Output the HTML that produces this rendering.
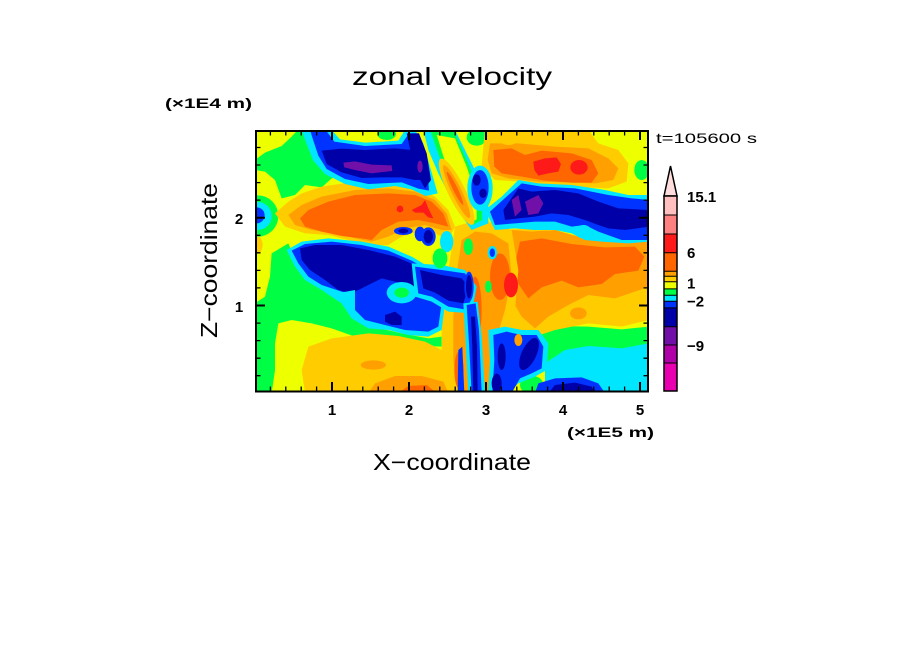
<!DOCTYPE html>
<html><head><meta charset="utf-8"><style>
html,body{margin:0;padding:0;background:#fff;}
svg{display:block;}
.t{font-family:"Liberation Sans",sans-serif;fill:#000;}
.y{fill:#eeff00}.g{fill:#00ff44}.c{fill:#00e6ff}.b{fill:#0033ff}.n{fill:#0000a8}.p{fill:#7010a8}
.gd{fill:#ffcc00}.o1{fill:#ffa000}.o2{fill:#ff6600}.r{fill:#ff1a1a}
</style></head><body>
<svg width="904" height="654" viewBox="0 0 904 654" xmlns="http://www.w3.org/2000/svg">
<rect width="904" height="654" fill="#fff"/>
<svg x="256" y="131" width="392" height="261" viewBox="3 3 1176 783" preserveAspectRatio="none">
<rect x="0" y="0" width="1182" height="789" class="y"/>
<!-- greens -->
<polygon class="g" points="0,90 30,68 80,48 110,20 128,0 205,0 240,40 252,90 236,140 200,172 150,165 120,195 80,205 60,150 30,125 0,120"/>
<circle class="g" cx="8" cy="258" r="62"/>
<polygon class="g" points="50,370 100,340 125,400 160,445 220,480 270,530 300,570 350,590 440,610 520,625 560,620 560,650 460,645 380,635 300,620 230,595 170,580 110,570 70,580 60,640 60,720 50,789 0,789 0,520 30,500 45,440"/>
<polygon class="g" points="840,600 900,588 1000,590 1100,598 1182,590 1182,665 1100,668 1000,660 920,668 870,700 840,680"/>
<ellipse class="g" cx="1160" cy="120" rx="22" ry="30"/>
<ellipse class="g" cx="975" cy="22" rx="35" ry="30"/>
<ellipse class="g" cx="665" cy="22" rx="30" ry="25"/>
<ellipse class="g" cx="830" cy="765" rx="35" ry="28"/>
<!-- positive: middle-left band -->
<polygon class="gd" points="60,250 100,215 140,190 200,170 300,155 400,155 480,170 540,200 580,240 600,290 580,330 540,310 500,300 440,320 400,345 340,345 280,330 220,315 150,310 90,290"/>
<polygon class="o1" points="100,255 140,225 200,200 300,180 400,175 480,185 540,210 575,250 590,300 560,300 510,285 450,295 400,320 350,335 300,325 240,310 170,300 120,285"/>
<polygon class="o2" points="135,265 160,240 220,215 300,195 400,190 480,195 530,215 565,250 580,290 540,280 490,270 430,275 380,300 350,330 320,325 260,318 200,305 150,290"/>
<ellipse class="r" cx="435" cy="237" rx="10" ry="10"/>
<polygon class="r" points="470,240 500,225 510,210 520,235 535,265 520,262 505,248 480,248"/>
<ellipse class="gd" cx="8" cy="345" rx="15" ry="25"/>
<!-- positive: top right -->
<polygon class="gd" points="690,0 1000,0 1030,40 1090,60 1120,100 1115,155 1060,175 990,172 900,168 800,155 720,150 680,110 685,50"/>
<polygon class="o1" points="705,40 790,40 900,50 1000,55 1060,85 1090,115 1075,150 1020,160 950,158 850,155 760,145 710,130 698,90"/>
<polygon class="o2" points="715,60 770,55 810,75 860,62 950,70 1010,90 1030,130 1010,158 950,158 870,152 800,140 740,130 718,110"/>
<polygon class="r" points="835,95 870,85 905,82 918,102 910,125 880,130 850,137 838,120"/>
<ellipse class="r" cx="972" cy="112" rx="26" ry="22"/>
<!-- positive: right lower -->
<polygon class="gd" points="720,300 850,295 950,315 1060,335 1182,320 1182,570 1100,590 1000,580 900,600 840,620 790,640 760,600 740,500 720,400"/>
<polygon class="o1" points="770,300 830,305 900,300 1000,328 1100,330 1182,322 1182,470 1140,485 1080,505 1000,495 940,525 880,560 840,595 800,560 765,500 745,420 755,340"/>
<polygon class="o2" points="795,335 860,325 950,342 1050,352 1140,350 1168,380 1150,422 1080,432 1040,462 970,472 920,452 860,472 820,505 790,462 780,400"/>
<ellipse class="o1" cx="970" cy="550" rx="25" ry="18"/>
<!-- positive: center -->
<polygon class="gd" points="600,290 650,275 700,275 770,300 790,420 780,540 740,640 720,789 580,789 560,700 560,560 580,420"/>
<polygon class="o1" points="620,330 660,305 710,310 760,340 770,440 750,540 720,640 700,789 610,789 595,690 595,560 605,430"/>
<ellipse class="o2" cx="660" cy="540" rx="20" ry="100"/>
<ellipse class="o2" cx="735" cy="440" rx="30" ry="70"/>
<ellipse class="o2" cx="612" cy="720" rx="14" ry="55"/>
<ellipse class="r" cx="768" cy="465" rx="21" ry="37"/>
<!-- positive: bottom-left -->
<polygon class="gd" points="160,650 230,625 340,610 430,618 510,635 560,660 580,789 150,789 140,720"/>
<polygon class="o1" points="340,789 360,760 420,738 500,738 565,755 580,789"/>
<ellipse class="o1" cx="355" cy="705" rx="38" ry="14"/>
<polygon class="o2" points="430,789 460,768 515,765 545,789"/>
<!-- negative: top-left -->
<polygon class="c" points="140,0 230,0 255,28 330,38 430,32 450,0 480,0 505,40 525,110 548,190 512,198 470,178 420,168 340,178 270,162 210,132 175,92 155,42"/>
<polygon class="b" points="165,0 212,0 238,35 330,48 440,42 462,10 490,10 505,70 518,130 522,182 490,176 440,157 340,162 270,147 215,117 190,77 175,32"/>
<polygon class="n" points="200,62 260,56 330,60 420,55 470,60 495,95 505,150 480,150 440,142 380,142 320,144 260,127 215,102"/>
<polygon class="n" points="455,10 492,10 515,70 528,150 510,175 490,140 470,80"/>
<polygon class="p" points="265,98 300,94 350,104 410,106 412,123 350,130 300,120 268,112"/>
<ellipse class="p" cx="495" cy="110" rx="8" ry="18"/>
<ellipse class="g" cx="395" cy="12" rx="28" ry="18"/>
<!-- left circle -->
<circle class="c" cx="8" cy="258" r="42"/>
<circle class="b" cx="5" cy="256" r="24"/>
<!-- negative: bottom-left band -->
<polygon class="c" points="95,360 140,335 220,325 320,335 400,350 470,380 520,410 555,440 570,520 560,600 520,620 460,615 400,600 340,595 290,565 260,520 200,480 150,450 120,410"/>
<polygon class="b" points="110,362 150,342 230,335 320,345 400,362 470,392 520,420 548,450 560,520 550,590 520,605 450,600 390,585 330,570 300,540 290,495 200,465 160,440 130,400"/>
<polygon class="n" points="135,355 180,345 260,345 340,360 420,380 480,405 510,430 505,470 470,470 420,455 380,445 330,470 290,490 250,480 210,450 165,420 140,390"/>
<ellipse class="c" cx="440" cy="488" rx="45" ry="32"/>
<ellipse class="g" cx="440" cy="488" rx="22" ry="15"/>
<polygon class="n" points="390,555 420,545 440,560 440,585 410,585 390,575"/>
<polygon class="c" points="245,490 300,480 300,560 280,530"/>
<!-- center-left navy -->
<polygon class="c" points="470,400 560,405 630,420 665,470 650,550 580,545 530,515 480,500"/>
<polygon class="b" points="480,410 560,420 630,430 655,470 640,540 580,530 530,500 490,490"/>
<polygon class="n" points="495,420 560,435 620,445 640,470 625,520 580,512 540,488 505,475"/>
<!-- negative: right mid -->
<polygon class="c" points="690,240 740,200 790,150 850,160 950,165 1050,180 1120,195 1182,195 1182,335 1120,340 1040,335 990,330 950,310 900,300 840,300 780,295 720,300"/>
<polygon class="b" points="705,245 760,195 800,160 860,170 960,175 1060,195 1130,205 1182,210 1182,330 1100,330 1030,305 990,285 950,290 900,275 840,275 780,280 720,285"/>
<polygon class="n" points="745,240 790,175 830,185 900,180 970,190 1030,215 1090,235 1182,240 1182,290 1110,300 1060,295 1030,285 990,270 940,255 890,250 840,260 790,265 750,270"/>
<polygon class="p" points="770,210 790,195 800,240 780,260"/>
<polygon class="p" points="810,215 850,195 865,220 850,250 820,255"/>
<ellipse class="c" cx="985" cy="305" rx="25" ry="20"/>
<!-- negative: bottom right -->
<polygon class="c" points="870,700 930,660 1000,648 1100,655 1182,640 1182,789 870,789"/>
<polygon class="b" points="840,789 850,760 900,745 980,742 1030,760 1050,789"/>
<polygon class="n" points="880,789 900,765 960,758 1010,770 1020,789"/>
<!-- center top diagonal stripes -->
<polygon class="c" points="505,0 600,0 650,100 700,200 700,280 650,300 600,230 550,130 520,60"/>
<polygon class="g" points="525,0 595,0 640,100 680,200 682,270 652,285 605,210 565,115"/>
<polygon class="y" points="545,15 600,25 635,110 665,200 665,268 642,278 612,205 578,120"/>
<ellipse class="gd" cx="605" cy="185" rx="26" ry="110" transform="rotate(-26 605 185)"/>
<ellipse class="o1" cx="605" cy="185" rx="15" ry="88" transform="rotate(-26 605 185)"/>
<ellipse class="o2" cx="600" cy="175" rx="7" ry="55" transform="rotate(-26 600 175)"/>
<ellipse class="c" cx="675" cy="175" rx="38" ry="68"/>
<ellipse class="b" cx="675" cy="172" rx="26" ry="52"/>
<ellipse class="n" cx="665" cy="150" rx="12" ry="17"/>
<ellipse class="n" cx="684" cy="190" rx="11" ry="14"/>
<ellipse class="gd" cx="760" cy="25" rx="30" ry="20"/>
<!-- mid blobs -->
<ellipse class="b" cx="445" cy="303" rx="28" ry="12"/>
<ellipse class="n" cx="445" cy="303" rx="15" ry="7"/>
<ellipse class="b" cx="495" cy="312" rx="16" ry="22"/>
<ellipse class="b" cx="520" cy="320" rx="22" ry="28"/>
<ellipse class="n" cx="520" cy="320" rx="14" ry="20"/>
<ellipse class="c" cx="575" cy="335" rx="20" ry="32"/>
<ellipse class="g" cx="555" cy="385" rx="22" ry="30"/>
<ellipse class="g" cx="640" cy="350" rx="14" ry="25"/>
<ellipse class="c" cx="712" cy="368" rx="14" ry="20"/>
<ellipse class="b" cx="712" cy="368" rx="8" ry="13"/>
<ellipse class="g" cx="700" cy="470" rx="10" ry="18"/>
<!-- bottom center streaks -->
<polygon class="c" points="700,600 750,590 800,600 850,600 880,640 875,720 840,740 790,760 760,789 700,789 705,690"/>
<polygon class="b" points="715,615 755,605 800,615 845,615 865,650 860,715 830,730 795,745 770,789 712,789 718,690"/>
<ellipse class="n" cx="822" cy="672" rx="22" ry="52" transform="rotate(25 822 672)"/>
<ellipse class="n" cx="740" cy="680" rx="12" ry="40"/>
<ellipse class="n" cx="725" cy="760" rx="15" ry="29"/>
<ellipse class="o1" cx="790" cy="630" rx="12" ry="18"/>
<ellipse class="b" cx="642" cy="470" rx="14" ry="45"/>
<ellipse class="n" cx="642" cy="470" rx="9" ry="35"/>
<polygon class="c" points="625,520 668,515 680,620 690,789 640,789 632,640"/>
<polygon class="b" points="635,525 662,520 672,600 680,789 650,789 642,640"/>
<polygon class="n" points="648,560 660,560 666,650 668,789 655,789 652,650"/>
<polygon class="b" points="610,660 622,650 628,789 608,789"/>
</svg>
<!-- frame -->
<rect x="256" y="131" width="392" height="260.5" fill="none" stroke="#000" stroke-width="2"/>
<!-- ticks -->
<path fill="none" stroke="#000" stroke-width="1.3" d="M270.4 391v-4.5M285.8 391v-4.5M301.2 391v-4.5M316.6 391v-4.5M347.4 391v-4.5M362.8 391v-4.5M378.2 391v-4.5M393.6 391v-4.5M424.4 391v-4.5M439.8 391v-4.5M455.2 391v-4.5M470.6 391v-4.5M501.4 391v-4.5M516.8 391v-4.5M532.2 391v-4.5M547.6 391v-4.5M578.4 391v-4.5M593.8 391v-4.5M609.2 391v-4.5M624.6 391v-4.5
M270.4 131v4.5M285.8 131v4.5M301.2 131v4.5M316.6 131v4.5M347.4 131v4.5M362.8 131v4.5M378.2 131v4.5M393.6 131v4.5M424.4 131v4.5M439.8 131v4.5M455.2 131v4.5M470.6 131v4.5M501.4 131v4.5M516.8 131v4.5M532.2 131v4.5M547.6 131v4.5M578.4 131v4.5M593.8 131v4.5M609.2 131v4.5M624.6 131v4.5
M256 375.7h4.5M256 358.2h4.5M256 340.6h4.5M256 323.1h4.5M256 287.9h4.5M256 270.4h4.5M256 252.8h4.5M256 235.3h4.5M256 200.1h4.5M256 182.6h4.5M256 165h4.5M256 147.5h4.5
M648 375.7h-4.5M648 358.2h-4.5M648 340.6h-4.5M648 323.1h-4.5M648 287.9h-4.5M648 270.4h-4.5M648 252.8h-4.5M648 235.3h-4.5M648 200.1h-4.5M648 182.6h-4.5M648 165h-4.5M648 147.5h-4.5"/>
<path fill="none" stroke="#000" stroke-width="2" d="M332 391v-9M409 391v-9M486 391v-9M563 391v-9M640 391v-9M332 131v9M409 131v9M486 131v9M563 131v9M640 131v9M256 305.5h9M256 217.7h9M648 305.5h-9M648 217.7h-9"/>
<!-- colorbar -->
<polygon points="664,196 670.5,166 677,196" fill="#ffdddd" stroke="#000" stroke-width="1.5"/>
<rect x="664" y="196" width="13" height="19" fill="#ffbfbf"/>
<rect x="664" y="215" width="13" height="19" fill="#ff8080"/>
<rect x="664" y="234" width="13" height="18.7" fill="#ff1a1a"/>
<rect x="664" y="252.7" width="13" height="18.6" fill="#ff6600"/>
<rect x="664" y="271.3" width="13" height="5" fill="#ffa000"/>
<rect x="664" y="276.3" width="13" height="5.4" fill="#ffcc00"/>
<rect x="664" y="281.7" width="13" height="7.2" fill="#eeff00"/>
<rect x="664" y="288.9" width="13" height="6.4" fill="#00ff44"/>
<rect x="664" y="295.3" width="13" height="6" fill="#00e6ff"/>
<rect x="664" y="301.3" width="13" height="6.6" fill="#0033ff"/>
<rect x="664" y="307.9" width="13" height="18.8" fill="#0000a8"/>
<rect x="664" y="326.7" width="13" height="18.3" fill="#7010a8"/>
<rect x="664" y="345" width="13" height="18" fill="#b000a8"/>
<rect x="664" y="363" width="13" height="28" fill="#e800b0"/>
<path fill="none" stroke="#000" stroke-width="1" d="M664 215h13M664 234h13M664 252.7h13M664 271.3h13M664 276.3h13M664 281.7h13M664 288.9h13M664 295.3h13M664 301.3h13M664 307.9h13M664 326.7h13M664 345h13M664 363h13"/>
<rect x="664" y="196" width="13" height="195" fill="none" stroke="#000" stroke-width="1.5"/>
<!-- text -->
<text class="t" x="352" y="85" font-size="25" textLength="200" lengthAdjust="spacingAndGlyphs">zonal velocity</text>
<text class="t" x="165" y="108" font-size="14" font-weight="bold" textLength="87" lengthAdjust="spacingAndGlyphs">(×1E4 m)</text>
<text class="t" x="656" y="143" font-size="14" textLength="101" lengthAdjust="spacingAndGlyphs">t=105600 s</text>
<text class="t" x="567" y="437" font-size="14" font-weight="bold" textLength="87" lengthAdjust="spacingAndGlyphs">(×1E5 m)</text>
<text class="t" x="373" y="470" font-size="23" textLength="158" lengthAdjust="spacingAndGlyphs">X−coordinate</text>
<text class="t" transform="translate(217,338) rotate(-90)" x="0" y="0" font-size="23" textLength="155" lengthAdjust="spacingAndGlyphs">Z−coordinate</text>
<g class="t" font-size="15" font-weight="bold" text-anchor="middle">
<text x="332" y="415">1</text><text x="409" y="415">2</text><text x="486" y="415">3</text><text x="563" y="415">4</text><text x="640" y="415">5</text>
<text x="239" y="224">2</text><text x="239" y="312">1</text>
</g>
<g class="t" font-size="15" font-weight="bold">
<text x="687" y="202">15.1</text>
<text x="687" y="258">6</text>
<text x="687" y="288.5">1</text>
<text x="687" y="306.5">−2</text>
<text x="687" y="351">−9</text>
</g>
</svg>
</body></html>
